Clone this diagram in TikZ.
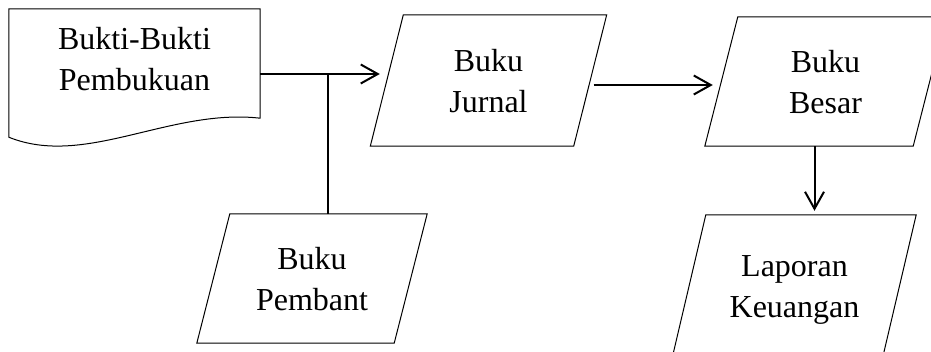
\documentclass[tikz,border=0pt]{standalone}
\usepackage{fontspec}
\setmainfont{Liberation Serif}
\usetikzlibrary{arrows.meta}

\begin{document}
\begin{tikzpicture}[x=1pt,y=-1pt,
  txt/.style={align=center,font=\fontsize{32}{41}\selectfont,inner sep=0pt,text depth=0pt},
  para/.style={txt,text height=65pt},
  conn/.style={line width=2pt},
  connarrow/.style={conn,-{Straight Barb[length=17pt,width=19pt,line width=2pt]}}]
  \useasboundingbox (0,0) rectangle (931,352);

  \node[txt,text height=55pt,minimum width=251pt,minimum height=109pt] (doc) at (134.5,63.5) {Bukti-Bukti\\Pembukuan};
  \node[para,minimum width=203pt,minimum height=131pt] (jur) at (488.5,80.5) {Buku\\Jurnal};
  \node[para,minimum width=208pt,minimum height=129pt] (bes) at (825.5,81.5) {Buku\\Besar};
  \node[para,minimum width=197pt,minimum height=129pt] (pem) at (312,278.5) {Buku\\Pembant};
  \node[para,minimum width=210pt,minimum height=140pt] (lap) at (794.5,285) {Laporan\\Keuangan};

  % document shape
  \draw[line width=1pt] (doc.north west) -- (doc.north east) -- (doc.south east)
    .. controls (170,108) and (85,168) .. ([yshift=-19pt]doc.south west) -- cycle;
  % input/output boxes
  \foreach \n in {jur,bes,pem,lap}
    \draw[line width=1pt] ([xshift=16.5pt]\n.north west) -- ([xshift=16.5pt]\n.north east)
      -- ([xshift=-16.5pt]\n.south east) -- ([xshift=-16.5pt]\n.south west) -- cycle;

  \coordinate (junc) at ([xshift=68pt,yshift=-10.5pt]doc.east);
  \draw[connarrow] ([yshift=-10.5pt]doc.east) -- ([xshift=-7pt,yshift=6.5pt]jur.west);
  \draw[conn] (junc) -- (junc |- pem.north);
  \draw[connarrow] ([xshift=3.5pt,yshift=-4.5pt]jur.east) -- ([xshift=-8.5pt,yshift=-3.5pt]bes.west);
  \draw[connarrow,shorten >=4pt] ([xshift=-11pt]bes.south) -- ([xshift=-11pt]bes.south |- lap.north);
\end{tikzpicture}
\end{document}
